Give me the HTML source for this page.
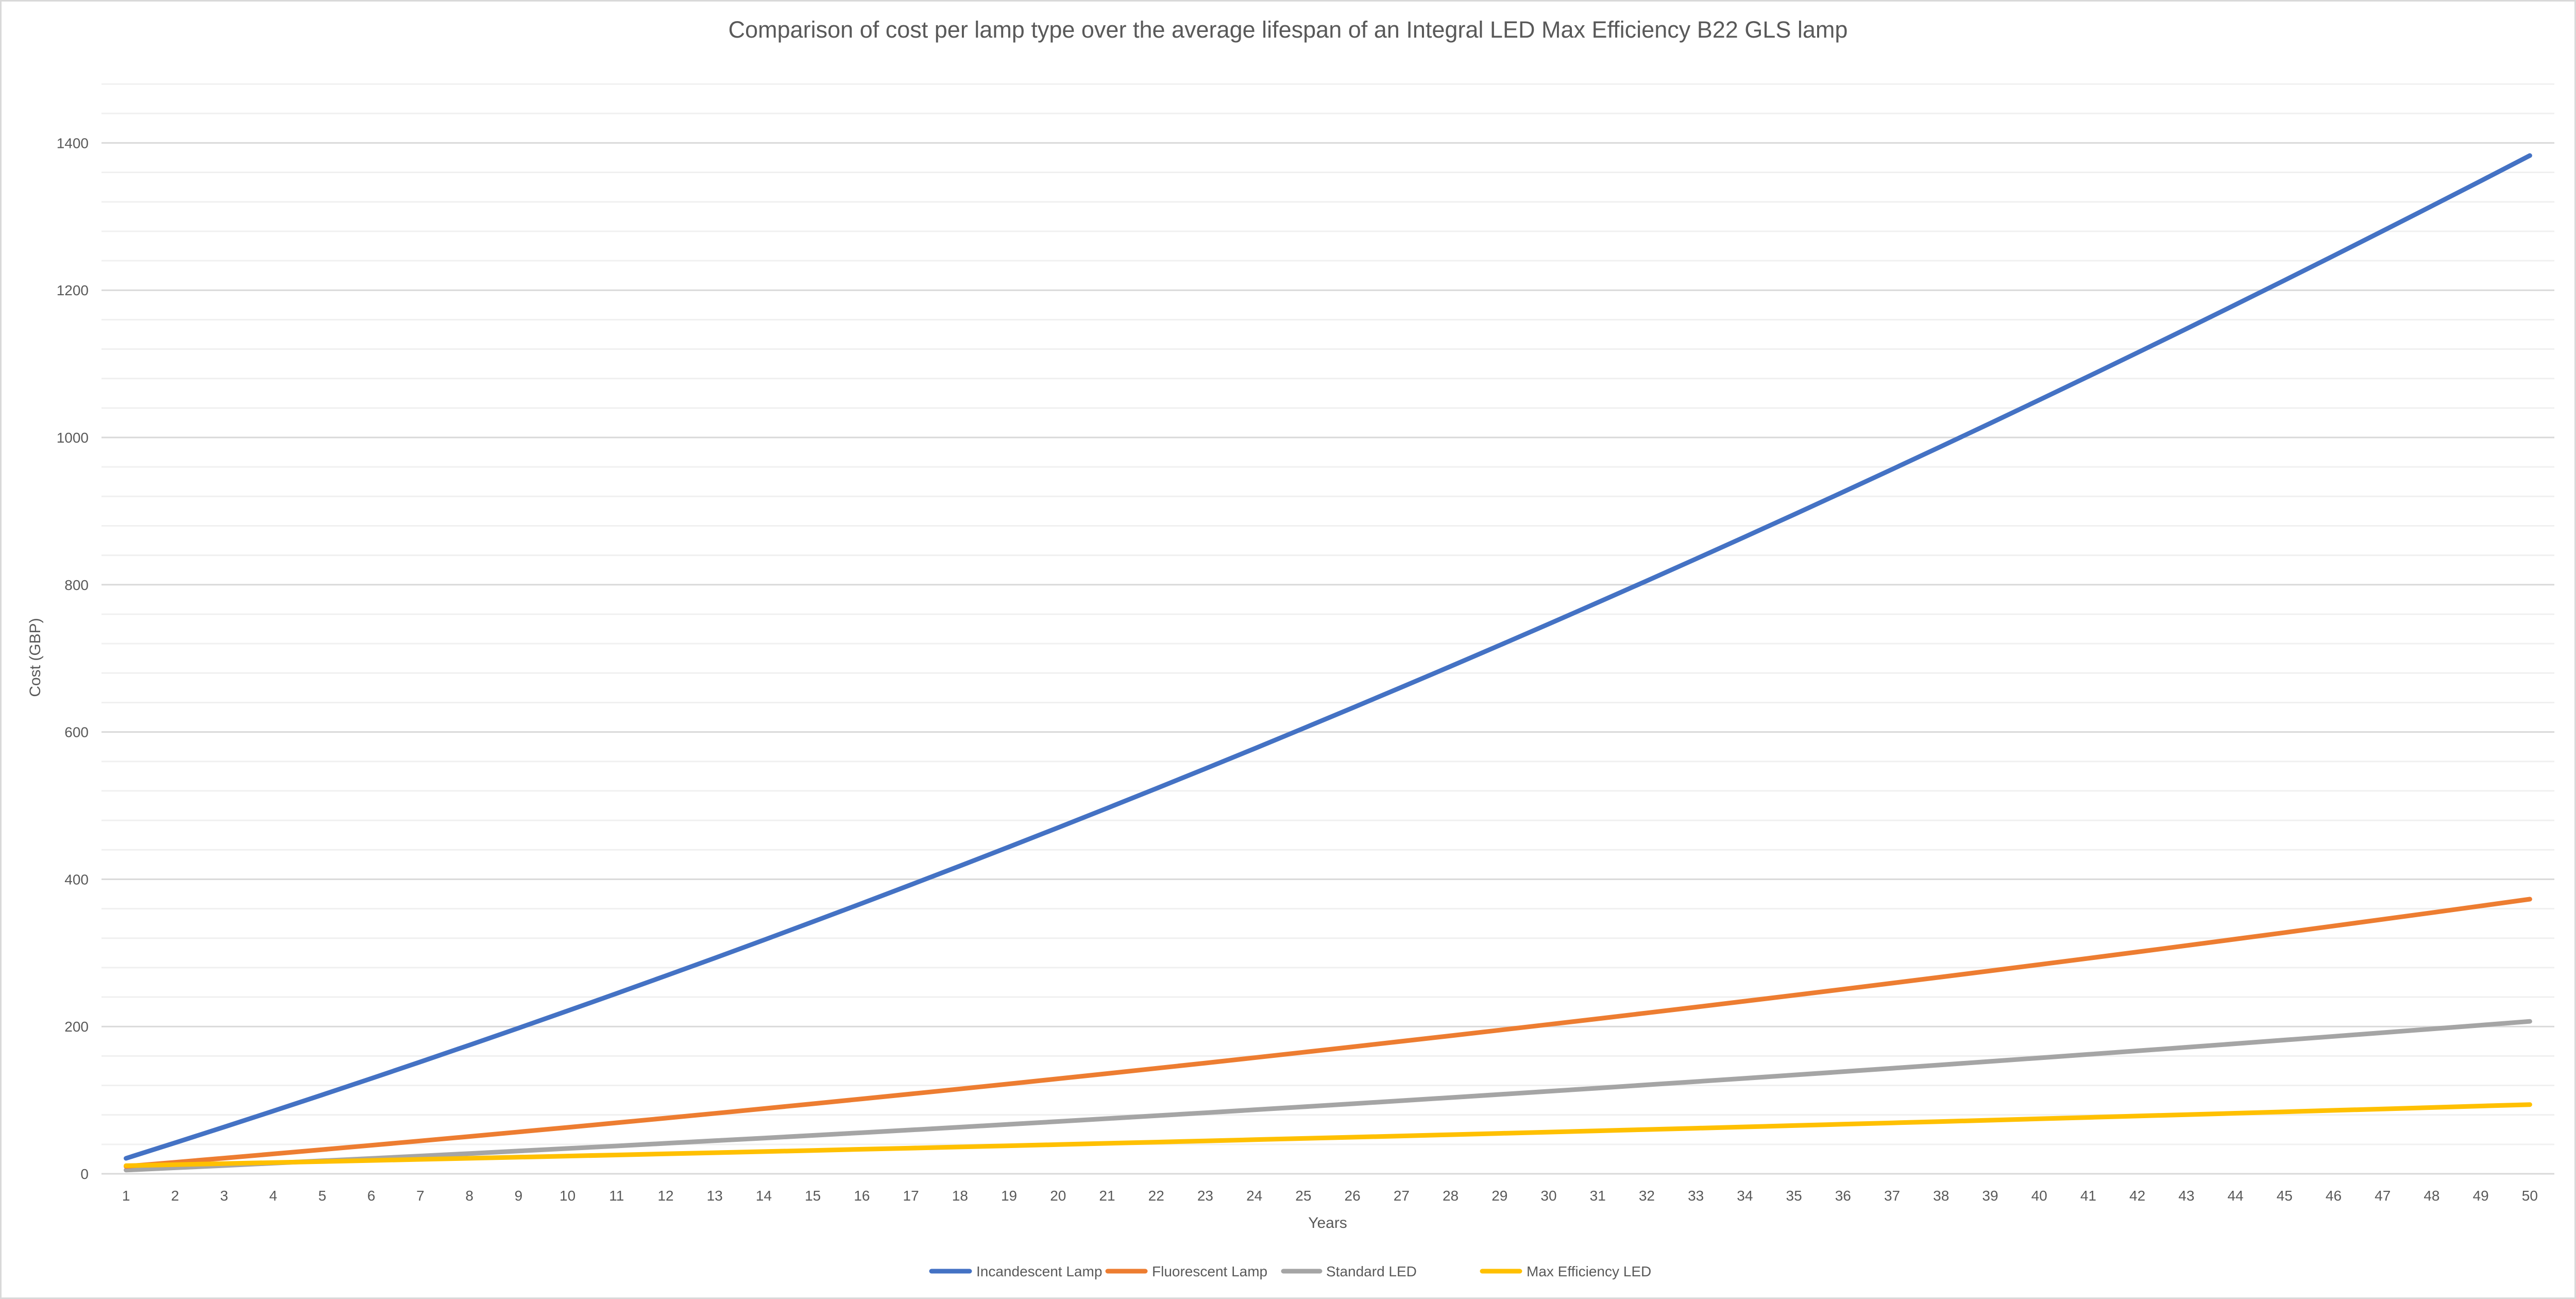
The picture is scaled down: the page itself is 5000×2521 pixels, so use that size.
<!DOCTYPE html>
<html><head><meta charset="utf-8"><style>
html,body{margin:0;padding:0;background:#fff;}
svg{display:block;}
text{font-family:"Liberation Sans",sans-serif;fill:#595959;}
</style></head><body>
<svg id="c" width="5000" height="2521" xmlns="http://www.w3.org/2000/svg">
<rect x="1.5" y="1.5" width="4997" height="2518" fill="#fff" stroke="#d9d9d9" stroke-width="3"/>
<text x="2500" y="73" font-size="45" text-anchor="middle">Comparison of cost per lamp type over the average lifespan of an Integral LED Max Efficiency B22 GLS lamp</text>
<g id="grid"></g>
<g id="ylab" font-size="28" text-anchor="end"></g>
<g id="xlab" font-size="28" text-anchor="middle"></g>
<text transform="translate(78,1276) rotate(-90)" font-size="30" text-anchor="middle">Cost (GBP)</text>
<text x="2577" y="2383" font-size="30" text-anchor="middle">Years</text>
<g id="series" fill="none" stroke-width="9" stroke-linejoin="round" stroke-linecap="round"></g>
<g font-size="28">
<line x1="1808" y1="2467" x2="1882" y2="2467" stroke="#4472c4" stroke-width="9" stroke-linecap="round"/>
<text x="1895" y="2477">Incandescent Lamp</text>
<line x1="2150" y1="2467" x2="2223" y2="2467" stroke="#ed7d31" stroke-width="9" stroke-linecap="round"/>
<text x="2236" y="2477">Fluorescent Lamp</text>
<line x1="2491" y1="2467" x2="2562" y2="2467" stroke="#a5a5a5" stroke-width="9" stroke-linecap="round"/>
<text x="2574" y="2477">Standard LED</text>
<line x1="2877" y1="2467" x2="2950" y2="2467" stroke="#ffc000" stroke-width="9" stroke-linecap="round"/>
<text x="2963" y="2477">Max Efficiency LED</text>
</g>
</svg>
<script>
var NS="http://www.w3.org/2000/svg";
var L=197,R=4958,Y0=2278,S=1.429,CW=(R-L)/50;
function el(t,a,p){var e=document.createElementNS(NS,t);for(var k in a)e.setAttribute(k,a[k]);document.getElementById(p).appendChild(e);return e;}
for(var v=0;v<=1480;v+=40){var y=Y0-v*S;var major=v%200==0;
el("line",{x1:L,x2:R,y1:y,y2:y,stroke:major?"#d9d9d9":"#f0f0f0","stroke-width":3},"grid");
if(major){var t=el("text",{x:172,y:y+10},"ylab");t.textContent=v;}}
for(var i=1;i<=50;i++){var t=el("text",{x:L+CW*(i-0.5),y:2330},"xlab");t.textContent=i;}
var ser=[["#a5a5a5",1.96,3.023,0.02155],["#ed7d31",4.49,5.47,0.038],["#ffc000",9.61,1.383,0.00609],["#4472c4",0.13,20.73,0.1385]];
ser.forEach(function(s){var d="";for(var n=1;n<=50;n++){var v=s[1]+s[2]*n+s[3]*n*n;d+=(n==1?"M":"L")+(L+CW*(n-0.5)).toFixed(1)+","+(Y0-v*S).toFixed(1);}
el("path",{d:d,stroke:s[0]},"series");});
</script>
</body></html>
